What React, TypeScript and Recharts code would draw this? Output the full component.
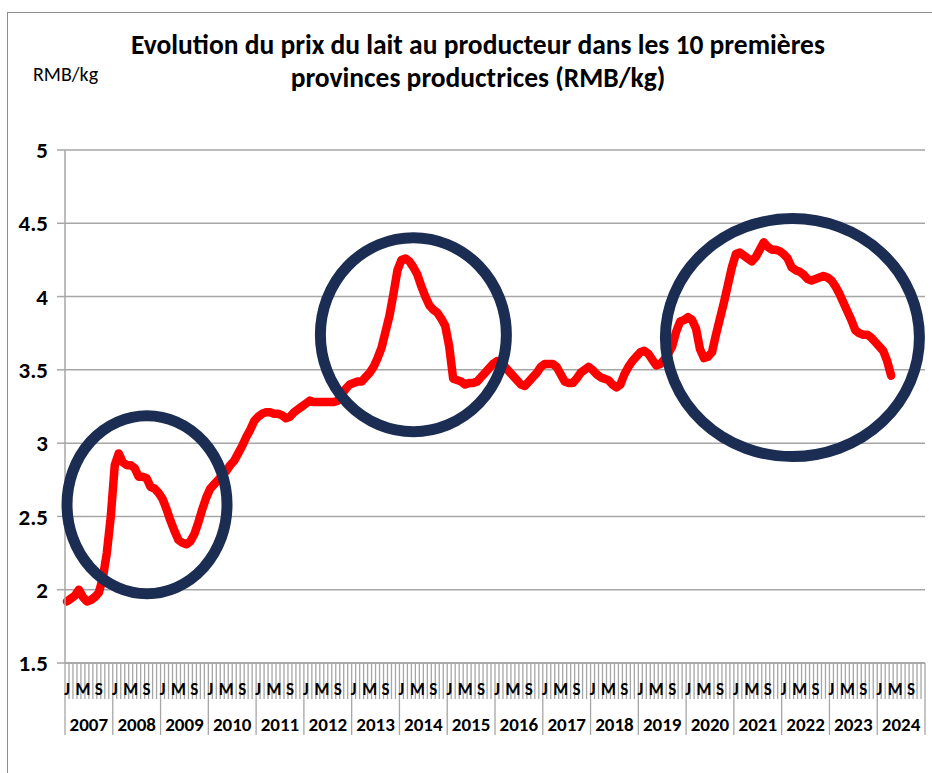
import { LineChart, Line, XAxis, YAxis, CartesianGrid, ReferenceDot } from 'recharts'

const YEARS = [
  '2007', '2008', '2009', '2010', '2011', '2012', '2013', '2014', '2015',
  '2016', '2017', '2018', '2019', '2020', '2021', '2022', '2023', '2024',
]

// only J, M, S get printed (every 4th month)
const MONTH_LETTERS = ['J', 'F', 'M', 'A', 'M', 'J', 'J', 'A', 'S', 'O', 'N', 'D']

const Y_TICKS = [1.5, 2, 2.5, 3, 3.5, 4, 4.5, 5]

// monthly price RMB/kg, Jan 2007 -> Apr 2024
const PRICES = [
  // 2007
  1.92, 1.94, 1.96, 2.0, 1.95, 1.92, 1.93, 1.95, 1.98, 2.08, 2.25, 2.5,
  // 2008
  2.85, 2.93, 2.87, 2.85, 2.85, 2.83, 2.77, 2.77, 2.76, 2.7, 2.69, 2.66,
  // 2009
  2.62, 2.55, 2.47, 2.4, 2.34, 2.32, 2.31, 2.33, 2.38, 2.46, 2.55, 2.63,
  // 2010
  2.69, 2.72, 2.75, 2.78, 2.81, 2.85, 2.88, 2.93, 2.98, 3.04, 3.09, 3.15,
  // 2011
  3.18, 3.2, 3.21, 3.21, 3.2, 3.2, 3.19, 3.17, 3.18, 3.21, 3.23, 3.25,
  // 2012
  3.27, 3.29, 3.28, 3.28, 3.28, 3.28, 3.28, 3.28, 3.29, 3.33, 3.37, 3.4,
  // 2013
  3.41, 3.42, 3.42, 3.45, 3.48, 3.52, 3.58, 3.65, 3.76, 3.87, 4.02, 4.18,
  // 2014
  4.25, 4.26, 4.24, 4.2, 4.15, 4.07, 4.0, 3.94, 3.91, 3.89, 3.85, 3.8,
  // 2015
  3.66, 3.44, 3.43, 3.42, 3.4, 3.41, 3.41, 3.42, 3.45, 3.48, 3.51, 3.54,
  // 2016
  3.56, 3.55, 3.52, 3.49, 3.46, 3.43, 3.4, 3.39, 3.42, 3.45, 3.48, 3.52,
  // 2017
  3.54, 3.54, 3.54, 3.52, 3.47, 3.42, 3.41, 3.41, 3.44, 3.48, 3.5, 3.52,
  // 2018
  3.5, 3.47, 3.45, 3.44, 3.43, 3.4, 3.38, 3.4, 3.47, 3.52, 3.56, 3.59,
  // 2019
  3.62, 3.63, 3.61, 3.57, 3.53, 3.54, 3.57, 3.61, 3.66, 3.76, 3.83, 3.84,
  // 2020
  3.86, 3.84, 3.78, 3.64, 3.58, 3.59, 3.62, 3.74, 3.85, 3.96, 4.08, 4.2,
  // 2021
  4.29, 4.3, 4.28, 4.26, 4.24, 4.27, 4.32, 4.37, 4.34, 4.32, 4.32, 4.31,
  // 2022
  4.29, 4.26, 4.2, 4.18, 4.17, 4.15, 4.12, 4.11, 4.12, 4.13, 4.14, 4.13,
  // 2023
  4.11, 4.07, 4.02, 3.96, 3.9, 3.84, 3.77, 3.75, 3.74, 3.74, 3.72, 3.69,
  // 2024
  3.66, 3.63, 3.56, 3.46,
]

// highlighted periods: centre (month on axis, price) and ellipse radii in px
const HIGHLIGHTS = [
  { x: 20.6, y: 2.58, rx: 80, ry: 89 },
  { x: 87.5, y: 3.74, rx: 93, ry: 97 },
  { x: 182.7, y: 3.72, rx: 127, ry: 119 },
]

const FONT = 'Calibri, Carlito, Lato, sans-serif'
const GRID = '#a6a6a6'
const N_MONTHS = YEARS.length * 12

const data = PRICES.map((price, i) => ({ m: i + 0.5, price }))

// month boundaries first (tick marks), then month centres (letters)
const xTicks = [
  ...Array.from({ length: N_MONTHS + 1 }, (_, i) => i),
  ...Array.from({ length: N_MONTHS }, (_, i) => i + 0.5),
]

function MonthTick(props: any) {
  const { x, y, payload } = props
  const v = payload.value as number
  if (Number.isInteger(v)) {
    const yearStart = v % 12 === 0
    return (
      <g>
        <line x1={x} x2={x} y1={y} y2={y + (yearStart ? 72 : 36)} stroke={GRID} strokeWidth={1.3} />
        {v % 12 === 6 && (
          <text x={x} y={y + 68} textAnchor="middle" fontFamily={FONT} fontWeight="bold" fontSize={19} fill="#000">
            {YEARS[Math.floor(v / 12)]}
          </text>
        )}
      </g>
    )
  }
  const mo = Math.floor(v) % 12
  if (mo % 4 !== 0) return <g />
  return (
    <text x={x} y={y + 32} textAnchor="middle" fontFamily={FONT} fontWeight="bold" fontSize={17} fill="#000">
      {MONTH_LETTERS[mo]}
    </text>
  )
}

function Ellipse(props: any) {
  const { cx, cy, rx, ry } = props
  return <ellipse cx={cx} cy={cy} rx={rx} ry={ry} fill="none" stroke="#1b2d52" strokeWidth={11} />
}

export default function App() {
  return (
    <div
      style={{
        position: 'absolute',
        left: 0,
        top: 0,
        width: 932,
        height: 773,
        overflow: 'hidden',
        background: '#fff',
        fontFamily: FONT,
      }}
    >
      <div
        style={{
          position: 'absolute',
          left: 7,
          top: 12,
          width: 1000,
          height: 1000,
          borderLeft: '1px solid #8c8c8c',
          borderTop: '1px solid #8c8c8c',
        }}
      />
      <div
        style={{
          position: 'absolute',
          left: 78,
          top: 28,
          width: 800,
          textAlign: 'center',
          fontSize: 27.5,
          fontWeight: 'bold',
          lineHeight: '33px',
          color: '#000',
          whiteSpace: 'nowrap',
        }}
      >
        Evolution du prix du lait au producteur dans les 10 premières
        <br />
        provinces productrices (RMB/kg)
      </div>
      <div style={{ position: 'absolute', left: 33, top: 62, fontSize: 20, color: '#000' }}>RMB/kg</div>

      <div style={{ position: 'absolute', left: 0, top: 0 }}>
        <LineChart width={932} height={773} data={data} margin={{ top: 150, right: 7, bottom: 30, left: 5 }}>
          <CartesianGrid vertical={false} stroke={GRID} strokeWidth={1.5} />
          <XAxis
            dataKey="m"
            type="number"
            domain={[0, N_MONTHS]}
            ticks={xTicks}
            interval={0}
            height={80}
            tickSize={0}
            tickMargin={0}
            tickLine={false}
            axisLine={{ stroke: GRID, strokeWidth: 1.5 }}
            tick={<MonthTick />}
          />
          <YAxis
            type="number"
            domain={[1.5, 5]}
            ticks={Y_TICKS}
            width={60}
            tickSize={8}
            tickMargin={9}
            axisLine={{ stroke: GRID, strokeWidth: 1.5 }}
            tickLine={{ stroke: GRID, strokeWidth: 1.5 }}
            tick={{ fill: '#000', fontSize: 23, fontWeight: 'bold', fontFamily: FONT }}
          />
          <Line
            type="linear"
            dataKey="price"
            stroke="#ff0000"
            strokeWidth={8.5}
            strokeLinecap="round"
            strokeLinejoin="round"
            dot={false}
            isAnimationActive={false}
          />
          {HIGHLIGHTS.map((h, i) => (
            <ReferenceDot
              key={i}
              x={h.x}
              y={h.y}
              r={1}
              shape={(p: any) => <Ellipse cx={p.cx} cy={p.cy} rx={h.rx} ry={h.ry} />}
            />
          ))}
        </LineChart>
      </div>
    </div>
  )
}
